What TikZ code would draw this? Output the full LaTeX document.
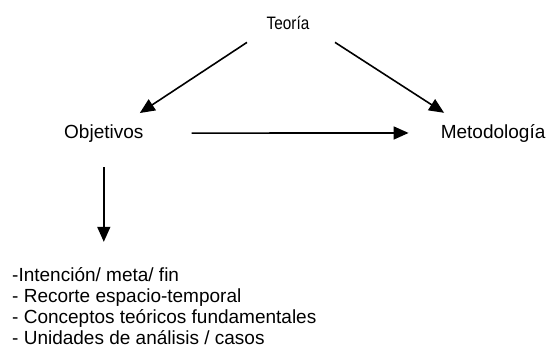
\documentclass[tikz,border=0pt]{standalone}
\usepackage{fontspec}
\setmainfont{Liberation Sans}
\newfontfamily\narrowfont[FakeStretch=0.85]{Liberation Sans}
\usetikzlibrary{arrows.meta, positioning}

\begin{document}
\begin{tikzpicture} [
    x=1pt, y=1pt,
    every node/.style={inner sep=0pt, font=\fontsize{19}{21}\selectfont},
    every edge/.style={draw, line width=1.6pt, -{Triangle[length=15pt, width=13pt]}}
  ]
  \useasboundingbox (0,0) rectangle (549,-351);

  % Nodes and Positions
  % TOP
  \node (TEORIA) [anchor=base, font=\narrowfont\fontsize{18}{21}\selectfont] at (288,-29) {Teoría};

  % MIDDLE
  \node (OBJ) [anchor=base west] at (64,-138) {Objetivos};
  \node (MET) [base right=297pt of OBJ] {Metodología};

  % BOTTOM (base = last line)
  \node (LIST) [anchor=base west, align=left] at (12,-344) {-Intención/ meta/ fin\\
    - Recorte espacio-temporal\\
    - Conceptos teóricos fundamentales\\
    - Unidades de análisis / casos};

  % Edges
  \path ([shift={(-41,-13)}]TEORIA.south) edge ([shift={(36,11)}]OBJ.north);
  \path ([shift={(47,-13)}]TEORIA.south) edge ([shift={(-49,11)}]MET.north);
  \path ([xshift=48pt]OBJ.east) edge ([xshift=-32pt]MET.west);
  \path ([yshift=-25pt]OBJ.south) edge ([yshift=25pt]OBJ.south |- LIST.north);

\end{tikzpicture}
\end{document}
